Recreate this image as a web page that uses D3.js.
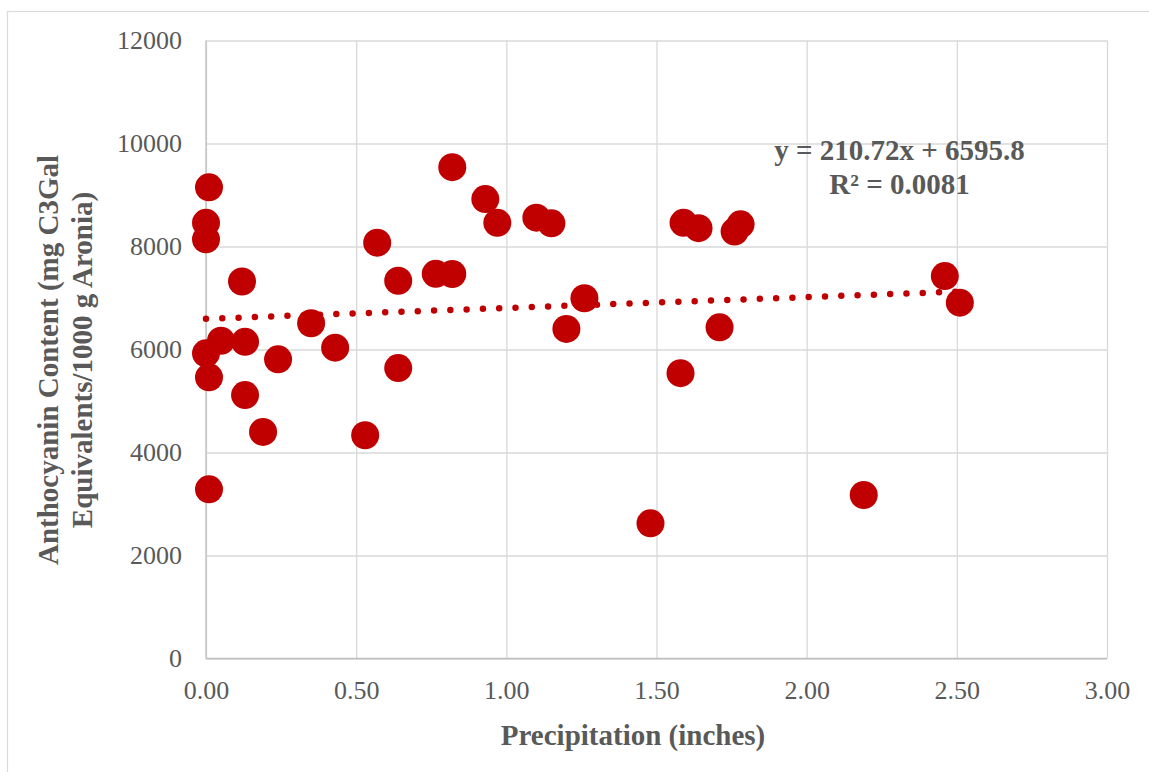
<!DOCTYPE html>
<html>
<head>
<meta charset="utf-8">
<script src="https://cdn.jsdelivr.net/npm/d3@7"></script>
<style>
  html, body { margin: 0; padding: 0; background: #fff; }
  svg { display: block; }
  text { font-family: "Liberation Serif", "Times New Roman", serif; fill: #595959; }
</style>
</head>
<body>
<svg id="chart" width="1149" height="772"></svg>
<script>
// Precipitation (inches) for each sample
const precipitation = [
  0.01, 0.00, 0.00, 0.12, 0.35, 0.05, 0.13, 0.00, 0.24, 0.43,
  0.01, 0.13, 0.19, 0.53, 0.01, 0.57, 0.64, 0.64, 0.765, 0.82,
  0.82, 0.93, 0.97, 1.10, 1.15, 1.26, 1.20, 1.58, 1.59, 1.64,
  1.76, 1.78, 1.71, 1.48, 2.19, 2.46, 2.51
];
// Anthocyanin content (mg C3Gal equivalents / 1000 g Aronia)
const anthocyanin = [
  9150, 8460, 8140, 7320, 6510, 6170, 6150, 5925, 5810, 6035,
  5460, 5115, 4400, 4335, 3285, 8075, 7335, 5640, 7470, 7466,
  9540, 8920, 8460, 8560, 8450, 6995, 6400, 5540, 8460, 8355,
  8290, 8430, 6430, 2625, 3175, 7425, 6910
];
// Linear trendline coefficients
const slope = 210.72;
const intercept = 6595.8;
const rSquared = 0.0081;

const xTicks = [0, 0.5, 1.0, 1.5, 2.0, 2.5, 3.0];
const yTicks = [0, 2000, 4000, 6000, 8000, 10000, 12000];

const svg = d3.select("#chart");
const plot = { left: 206, right: 1107, top: 40.5, bottom: 658.5 };

const x = d3.scaleLinear().domain([0, 3]).range([plot.left, plot.right]);
const y = d3.scaleLinear().domain([0, 12000]).range([plot.bottom, plot.top]);

// chart area border
svg.append("rect")
  .attr("x", 7.5).attr("y", 11.5)
  .attr("width", 1200).attr("height", 800)
  .attr("fill", "none").attr("stroke", "#d9d9d9").attr("stroke-width", 1.2);

// horizontal gridlines + y tick labels
const yAxis = d3.axisLeft(y).tickValues(yTicks)
  .tickSize(-(plot.right - plot.left)).tickPadding(24)
  .tickFormat(d3.format("d"));
const gy = svg.append("g").attr("transform", `translate(${plot.left},0)`).call(yAxis);
gy.select(".domain").remove();
gy.selectAll(".tick line").attr("stroke", "#d9d9d9").attr("stroke-width", 1.3);
gy.selectAll(".tick text").attr("fill", "#595959")
  .style("font-size", "26px").style("font-family", "Liberation Serif");

// vertical gridlines + x tick labels
const xAxis = d3.axisBottom(x).tickValues(xTicks)
  .tickSize(-(plot.bottom - plot.top)).tickPadding(22)
  .tickFormat(d3.format(".2f"));
const gx = svg.append("g").attr("transform", `translate(0,${plot.bottom})`).call(xAxis);
gx.select(".domain").remove();
gx.selectAll(".tick line").attr("stroke", "#d9d9d9").attr("stroke-width", 1.3);
gx.selectAll(".tick text").attr("fill", "#595959")
  .style("font-size", "26px").style("font-family", "Liberation Serif");

// axis lines
svg.append("line")
  .attr("x1", plot.left).attr("x2", plot.right)
  .attr("y1", y(0)).attr("y2", y(0))
  .attr("stroke", "#bfbfbf").attr("stroke-width", 1.3);
svg.append("line")
  .attr("x1", x(0)).attr("x2", x(0))
  .attr("y1", plot.top).attr("y2", plot.bottom)
  .attr("stroke", "#bfbfbf").attr("stroke-width", 1.3);

// data points
const points = precipitation.map((p, i) => ({ p, a: anthocyanin[i] }));
svg.append("g").selectAll("circle")
  .data(points).join("circle")
  .attr("cx", d => x(d.p))
  .attr("cy", d => y(d.a))
  .attr("r", 14)
  .attr("fill", "#c00000");

// dotted linear trendline over the data range
const xMin = d3.min(precipitation), xMax = d3.max(precipitation);
const trend = [xMin, xMax].map(v => ({ p: v, a: slope * v + intercept }));
svg.append("path")
  .datum(trend)
  .attr("d", d3.line().x(d => x(d.p)).y(d => y(d.a)))
  .attr("fill", "none")
  .attr("stroke", "#c00000")
  .attr("stroke-width", 6.5)
  .attr("stroke-linecap", "round")
  .attr("stroke-dasharray", "0 16.3");

// trendline equation
const eq = svg.append("text")
  .attr("text-anchor", "middle")
  .style("font-size", "29px").style("font-weight", "bold");
eq.append("tspan").attr("x", 899.5).attr("y", 160)
  .text(`y = ${slope}x + ${intercept}`);
eq.append("tspan").attr("x", 899.5).attr("y", 194)
  .text(`R² = ${rSquared}`);

// axis titles
svg.append("text")
  .attr("x", 633).attr("y", 745)
  .attr("text-anchor", "middle")
  .style("font-size", "29px").style("font-weight", "bold")
  .text("Precipitation (inches)");

const yt = svg.append("text")
  .attr("transform", "translate(0,360) rotate(-90)")
  .attr("text-anchor", "middle")
  .style("font-size", "29px").style("font-weight", "bold");
yt.append("tspan").attr("x", 0).attr("y", 58).text("Anthocyanin Content (mg C3Gal");
yt.append("tspan").attr("x", 0).attr("y", 92).text("Equivalents/1000 g Aronia)");
</script>
</body>
</html>
